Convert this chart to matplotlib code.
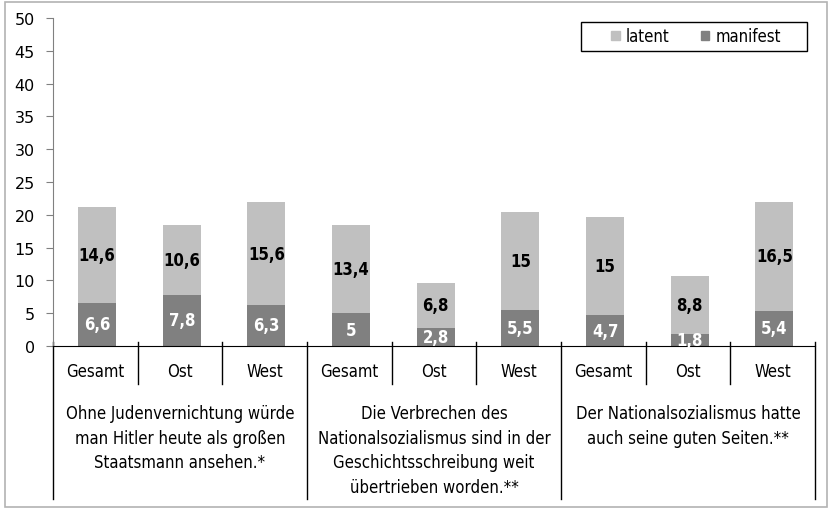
import matplotlib
matplotlib.use("Agg")
import matplotlib.pyplot as plt
from matplotlib.patches import Rectangle, Patch
import numpy as np

# Daten
gruppen = [
    "Ohne Judenvernichtung würde\nman Hitler heute als großen\nStaatsmann ansehen.*",
    "Die Verbrechen des\nNationalsozialismus sind in der\nGeschichtsschreibung weit\nübertrieben worden.**",
    "Der Nationalsozialismus hatte\nauch seine guten Seiten.**",
]
regionen = ["Gesamt", "Ost", "West"]
manifest = [6.6, 7.8, 6.3, 5, 2.8, 5.5, 4.7, 1.8, 5.4]
latent = [14.6, 10.6, 15.6, 13.4, 6.8, 15, 15, 8.8, 16.5]
manifest_txt = ["6,6", "7,8", "6,3", "5", "2,8", "5,5", "4,7", "1,8", "5,4"]
latent_txt = ["14,6", "10,6", "15,6", "13,4", "6,8", "15", "15", "8,8", "16,5"]

plt.rcParams["font.family"] = ["DejaVu Sans"]
plt.rcParams["font.stretch"] = "condensed"

W, H = 832, 510
fig = plt.figure(figsize=(W / 100, H / 100), dpi=100)
# Rahmen um die ganze Grafik
fig.patches.append(Rectangle((5 / W, 2 / H), (W - 10) / W, (H - 5) / H,
                             transform=fig.transFigure, fill=False,
                             edgecolor="#b3b3b3", linewidth=1.2))

x0, x1, y0, y1 = 53, 815, 347, 19
ax = fig.add_axes([x0 / W, (H - y0) / H, (x1 - x0) / W, (y0 - y1) / H])
ax_h = y0 - y1

x = np.arange(len(manifest))
breite = 0.45
ax.bar(x + 0.02, manifest, breite, color="#808080", label="manifest", zorder=2)
ax.bar(x + 0.02, latent, breite, bottom=manifest, color="#c0c0c0", label="latent", zorder=2)

for i in range(len(x)):
    ax.text(x[i] + 0.02, manifest[i] / 2, manifest_txt[i], ha="center", va="center",
            color="white", fontsize=12, fontweight="bold", zorder=3)
    ax.text(x[i] + 0.02, manifest[i] + latent[i] / 2, latent_txt[i], ha="center",
            va="center", color="black", fontsize=12, fontweight="bold", zorder=3)

ax.set_xlim(-0.5, 8.5)
ax.set_ylim(0, 50)
ax.set_yticks(np.arange(0, 51, 5))
ax.tick_params(axis="y", direction="out", length=5, color="#808080",
               labelsize=11.5, pad=8)
for lab in ax.get_yticklabels():
    lab.set_fontstretch("normal")
ax.set_xticks([])
for s in ["top", "right"]:
    ax.spines[s].set_visible(False)
ax.spines["left"].set_color("#808080")
ax.spines["bottom"].set_color("black")

# mehrstufige Achsenbeschriftung
tr = ax.get_xaxis_transform()


def fy(py):
    return (y0 - py) / ax_h


for i in range(len(x)):
    ax.text(x[i], fy(372), regionen[i % 3], transform=tr, ha="center",
            va="center", fontsize=12)
    if i % 3 != 2:
        ax.plot([i + 0.5, i + 0.5], [fy(343), fy(385)], transform=tr,
                color="black", linewidth=1, clip_on=False)

for g in range(4):
    ax.plot([g * 3 - 0.5, g * 3 - 0.5], [fy(343), fy(500)], transform=tr,
            color="black", linewidth=1, clip_on=False)

for g, txt in enumerate(gruppen):
    ax.text(g * 3 + 1, fy(405), txt, transform=tr, ha="center", va="top",
            fontsize=12, linespacing=1.47)

# Legende mit eigenem Rahmen
fig.patches.append(Rectangle((581 / W, 1 - 52 / H), 226 / W, 29 / H,
                             transform=fig.transFigure, fill=False,
                             edgecolor="black", linewidth=1))
handles = [Patch(color="#c0c0c0", label="latent"),
           Patch(color="#808080", label="manifest")]
fig.legend(handles=handles, loc="center", ncol=2,
           bbox_to_anchor=(696 / W, 1 - 37.5 / H), frameon=False,
           fontsize=12, handlelength=0.5, handleheight=0.5,
           handletextpad=0.36, columnspacing=1.9, borderpad=0)

fig.savefig("out.png", dpi=100)
